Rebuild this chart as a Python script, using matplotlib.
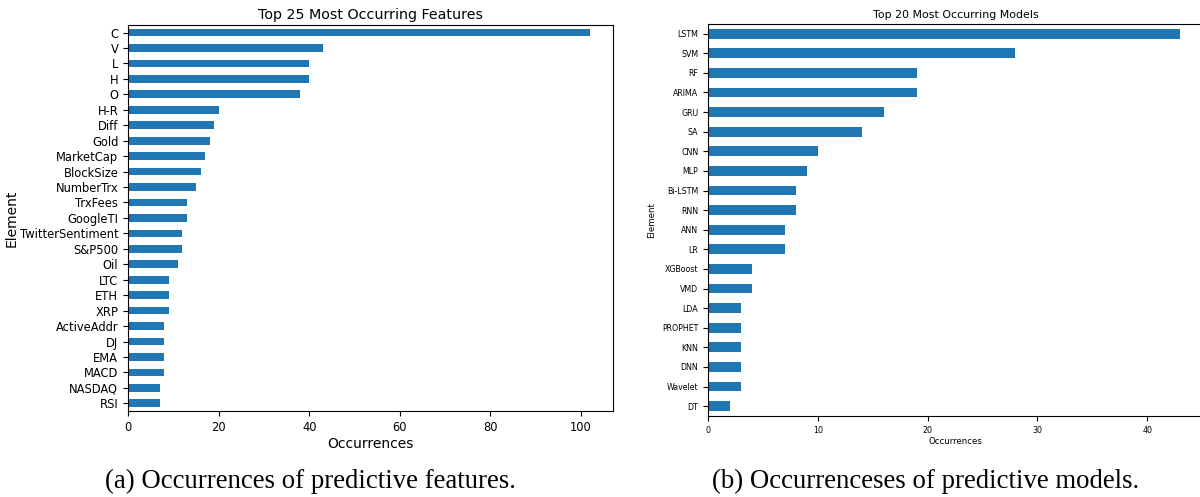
import matplotlib
matplotlib.use("Agg")
import matplotlib.pyplot as plt

# Left panel: top 25 features
features = ['C', 'V', 'L', 'H', 'O', 'H-R', 'Diff', 'Gold', 'MarketCap', 'BlockSize',
            'NumberTrx', 'TrxFees', 'GoogleTI', 'TwitterSentiment', 'S&P500', 'Oil',
            'LTC', 'ETH', 'XRP', 'ActiveAddr', 'DJ', 'EMA', 'MACD', 'NASDAQ', 'RSI']
feature_counts = [102, 43, 40, 40, 38, 20, 19, 18, 17, 16,
                  15, 13, 13, 12, 12, 11,
                  9, 9, 9, 8, 8, 8, 8, 7, 7]

# Right panel: top 20 models
models = ['LSTM', 'SVM', 'RF', 'ARIMA', 'GRU', 'SA', 'CNN', 'MLP', 'Bi-LSTM', 'RNN',
          'ANN', 'LR', 'XGBoost', 'VMD', 'LDA', 'PROPHET', 'KNN', 'DNN', 'Wavelet', 'DT']
model_counts = [43, 28, 19, 19, 16, 14, 10, 9, 8, 8,
                7, 7, 4, 4, 3, 3, 3, 3, 3, 2]

bar_color = '#1f77b4'

fig = plt.figure(figsize=(12, 4.97), dpi=100)


def draw_panel(ax, names, counts, title, tick_fs, label_fs, title_fs):
    # reverse so the largest is on top, like pandas barh of a sorted series
    ypos = range(len(names))
    ax.barh(list(ypos), counts[::-1], height=0.5, color=bar_color)
    ax.set_yticks(list(ypos))
    ax.set_yticklabels(names[::-1], fontsize=tick_fs)
    ax.set_ylim(-0.5, len(names) - 0.5)
    ax.set_xlim(0, max(counts) * 1.05)
    ax.tick_params(axis='x', labelsize=tick_fs)
    ax.set_xlabel('Occurrences', fontsize=label_fs, labelpad=2)
    ax.set_ylabel('Element', fontsize=label_fs)
    ax.set_title(title, fontsize=title_fs, pad=4)


ax1 = fig.add_axes([0.1067, 0.173, 0.4042, 0.777])
draw_panel(ax1, features, feature_counts, 'Top 25 Most Occurring Features', 8.3, 10, 10.3)
ax1.yaxis.set_label_coords(-0.226, 0.5)

ax2 = fig.add_axes([0.59, 0.163, 0.413, 0.789])
draw_panel(ax2, models, model_counts, 'Top 20 Most Occurring Models', 5.7, 6.2, 7.9)
ax2.set_xticks([0, 10, 20, 30, 40])

# figure captions
fig.text(0.259, 0.019, '(a) Occurrences of predictive features.',
         family='Liberation Serif', fontsize=19.3, ha='center', va='baseline')
fig.text(0.771, 0.019, '(b) Occurrenceses of predictive models.',
         family='Liberation Serif', fontsize=19.3, ha='center', va='baseline')

fig.savefig('out.png', dpi=100)
